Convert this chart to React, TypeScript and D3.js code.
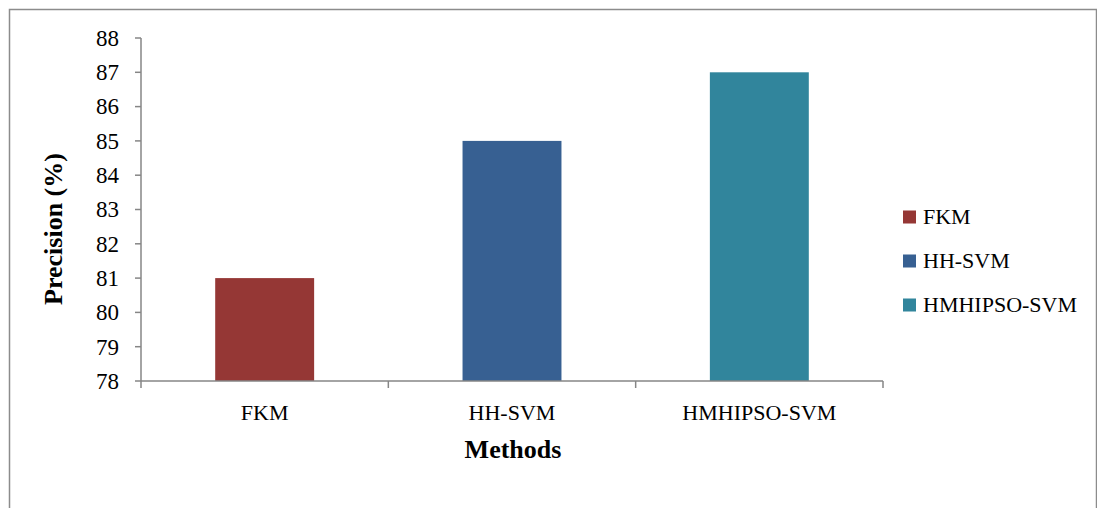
import React from "react";
import * as d3 from "d3";

const categories = ["FKM", "HH-SVM", "HMHIPSO-SVM"];
const precision = [81, 85, 87];
const colors = ["#953735", "#376092", "#31859c"];
const yTicks = [78, 79, 80, 81, 82, 83, 84, 85, 86, 87, 88];

const W = 1097;
const H = 508;
const plot = { left: 141, right: 883, top: 38, bottom: 381 };
const FONT = "'Liberation Serif', 'Times New Roman', serif";
const AXIS = "#868686";

export default function App() {
  const x = d3
    .scaleBand<string>()
    .domain(categories)
    .range([plot.left, plot.right])
    .paddingInner(0.6)
    .paddingOuter(0.3);
  const band = d3.scaleBand<string>().domain(categories).range([plot.left, plot.right]);
  const y = d3.scaleLinear().domain([78, 88]).range([plot.bottom, plot.top]);

  return (
    <div style={{ position: "fixed", left: 0, top: 0 }}>
      <svg width={W} height={H} style={{ display: "block", background: "#fff" }}>
        {/* chart frame */}
        <rect x={9.5} y={9.5} width={1087} height={520} fill="none" stroke="#8c8c8c" strokeWidth={1.5} />

        {/* bars */}
        {categories.map((c, i) => (
          <rect
            key={c}
            x={x(c)}
            y={y(precision[i])}
            width={x.bandwidth()}
            height={y(78) - y(precision[i])}
            fill={colors[i]}
          />
        ))}

        {/* y axis */}
        <line x1={plot.left} x2={plot.left} y1={plot.top} y2={plot.bottom} stroke={AXIS} strokeWidth={1.5} />
        {yTicks.map((t) => (
          <g key={t}>
            <line x1={plot.left - 6} x2={plot.left} y1={y(t)} y2={y(t)} stroke={AXIS} strokeWidth={1.5} />
            <text
              x={119}
              y={y(t)}
              dy="0.34em"
              textAnchor="end"
              fontFamily={FONT}
              fontSize={23}
              fill="#000"
            >
              {t}
            </text>
          </g>
        ))}

        {/* x axis */}
        <line x1={plot.left} x2={plot.right} y1={plot.bottom} y2={plot.bottom} stroke={AXIS} strokeWidth={1.5} />
        {[...categories.map((c) => band(c) as number), plot.right].map((px, i) => (
          <line key={i} x1={px} x2={px} y1={plot.bottom} y2={plot.bottom + 7} stroke={AXIS} strokeWidth={1.5} />
        ))}
        {categories.map((c) => (
          <text
            key={c}
            x={(band(c) as number) + band.bandwidth() / 2}
            y={420}
            textAnchor="middle"
            fontFamily={FONT}
            fontSize={22}
            fill="#000"
          >
            {c}
          </text>
        ))}

        {/* axis titles */}
        <text x={513} y={458} textAnchor="middle" fontFamily={FONT} fontWeight="bold" fontSize={26} fill="#000">
          Methods
        </text>
        <text
          transform="translate(62,229) rotate(-90)"
          textAnchor="middle"
          fontFamily={FONT}
          fontWeight="bold"
          fontSize={26}
          fill="#000"
        >
          Precision (%)
        </text>

        {/* legend */}
        {categories.map((c, i) => (
          <g key={c} transform={`translate(903,${217 + i * 44})`}>
            <rect x={0} y={-6.5} width={13} height={13} fill={colors[i]} />
            <text x={20} y={0} dy="0.34em" fontFamily={FONT} fontSize={22} fill="#000">
              {c}
            </text>
          </g>
        ))}
      </svg>
    </div>
  );
}
